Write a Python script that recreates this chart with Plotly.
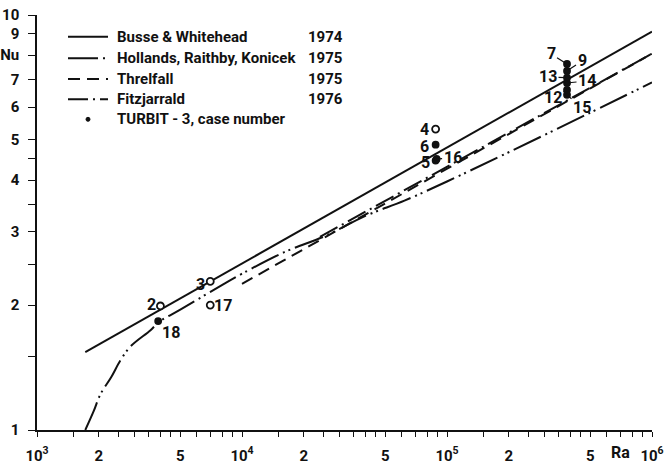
import math
import plotly.graph_objects as go

# ---------------- data ----------------
ra_busse = [1720, 1.0e6]
nu_busse = [1.54, 9.12]

ra_hollands = [1720, 1890, 2040, 2300, 2550, 2860, 3580, 3930, 5000, 8170,
               1.0e4, 1.6e4, 2.57e4, 4.0e4, 6.2e4, 1.0e5, 2.0e5, 4.87e5, 1.0e6]
nu_hollands = [1.00, 1.11, 1.22, 1.34, 1.47, 1.59, 1.74, 1.82, 1.95, 2.25,
               2.38, 2.68, 2.94, 3.28, 3.57, 3.97, 4.67, 5.78, 6.88]

ra_threlfall = [1.0e4, 1.0e6]
nu_threlfall = [2.25, 8.07]

ra_fitz = [2.4e4, 1.0e6]
nu_fitz = [2.92, 8.07]

case_ids = ["2", "3", "4", "5", "6", "7", "9", "12", "13", "14", "15", "16", "17", "18"]
ra_cases = [4000, 7000, 8.8e4, 8.8e4, 8.8e4, 3.85e5, 3.85e5, 3.85e5, 3.85e5, 3.85e5, 3.85e5, 8.9e4, 7000, 3900]
nu_cases = [1.99, 2.28, 5.31, 4.46, 4.87, 7.62, 7.33, 6.60, 7.06, 6.86, 6.42, 4.50, 2.00, 1.83]
open_cases = ["2", "3", "4", "17"]

legend_names = ["Busse & Whitehead", "Hollands, Raithby, Konicek", "Threlfall", "Fitzjarrald",
                "TURBIT - 3, case number"]
legend_years = ["1974", "1975", "1975", "1976", ""]

x_major_vals = [1e3, 2e3, 5e3, 1e4, 2e4, 5e4, 1e5, 2e5, 5e5, 1e6]
x_major_text = ["10<sup>3</sup>", "2", "5", "10<sup>4</sup>", "2", "5",
                "10<sup>5</sup>", "2", "5", "10<sup>6</sup>"]
x_minor_mult = [1.5, 2.5, 3, 3.5, 4, 4.5, 6, 7, 8, 9]
x_decades = [1e3, 1e4, 1e5]
y_tickvals = [1, 2, 3, 4, 5, 6, 7, 8, 9, 10]
y_ticktext = ["1", "2", "3", "4", "5", "6", "7", "Nu", "9", "10"]
y_minor_vals = [1.5, 2.5, 3.5, 4.5]

# ---------------- styling ----------------
FONT = "Roboto, Liberation Sans, sans-serif"
BLACK = "#111111"
DASH_H = "30px,5px,2px,4px,2px,5px"
DASH_T = "12px,7px"
DASH_F = "20px,5px,2px,5px"

x_minor_vals = [d * m for d in x_decades for m in x_minor_mult]

fig = go.Figure()
fig.add_trace(go.Scatter(x=ra_busse, y=nu_busse, mode="lines",
                         line=dict(color=BLACK, width=2), showlegend=False))
fig.add_trace(go.Scatter(x=ra_hollands, y=nu_hollands, mode="lines",
                         line=dict(color=BLACK, width=2, dash=DASH_H, shape="spline"), showlegend=False))
fig.add_trace(go.Scatter(x=ra_threlfall, y=nu_threlfall, mode="lines",
                         line=dict(color=BLACK, width=2, dash=DASH_T), showlegend=False))
fig.add_trace(go.Scatter(x=ra_fitz, y=nu_fitz, mode="lines",
                         line=dict(color=BLACK, width=2, dash=DASH_F), showlegend=False))

fill = ["white" if c in open_cases else BLACK for c in case_ids]
size = [7 if c in open_cases else 6 for c in case_ids]
fig.add_trace(go.Scatter(x=ra_cases, y=nu_cases, mode="markers",
                         marker=dict(symbol="circle", size=size, color=fill, opacity=1,
                                     line=dict(color=BLACK, width=1.8)),
                         showlegend=False))

plain = {"2": (-9, 1), "18": (13, -11), "3": (-10, -3), "17": (13, 0),
         "4": (-11, 0), "6": (-11, -2), "5": (-10, -2)}
leader = {"16": (16, -1), "7": (-16, -10), "9": (15, -10), "13": (-19, -1),
          "14": (20, -2), "12": (-14, 8), "15": (15, 13)}
LBL = dict(family=FONT, size=16, color=BLACK, weight="bold")
for cid, ra, nu in zip(case_ids, ra_cases, nu_cases):
    if cid in plain:
        dx, dy = plain[cid]
        fig.add_annotation(x=math.log10(ra), y=math.log10(nu), text=cid, showarrow=False,
                           xshift=dx, yshift=dy, font=LBL)
    else:
        ax, ay = leader[cid]
        fig.add_annotation(x=math.log10(ra), y=math.log10(nu), text=cid, showarrow=True,
                           arrowhead=0, arrowwidth=1.2, arrowcolor=BLACK, ax=ax, ay=ay,
                           standoff=2, font=LBL)

# ---------------- legend drawn in the plot area ----------------
X0, W = 37, 615
Y_BOT, H = 430, 415
def px(x):
    return (x - X0) / W
def py(y):
    return (Y_BOT - y) / H

rows = [36.7, 58.3, 79.0, 99.3, 119.3]
dashes = ["solid", DASH_H, DASH_T, DASH_F]
for r, d in zip(rows[:4], dashes):
    fig.add_shape(type="line", xref="paper", yref="paper", x0=px(68), x1=px(108),
                  y0=py(r), y1=py(r), line=dict(color=BLACK, width=2, dash=d))
fig.add_shape(type="circle", xref="paper", yref="paper",
              x0=px(86), x1=px(90), y0=py(rows[4] + 2), y1=py(rows[4] - 2),
              fillcolor=BLACK, line=dict(color=BLACK, width=1))
LEG = dict(family=FONT, size=15, color=BLACK, weight="bold")
for r, name, yr in zip(rows, legend_names, legend_years):
    fig.add_annotation(xref="paper", yref="paper", x=px(115), y=py(r), text=name,
                       showarrow=False, xanchor="left", yanchor="middle", font=LEG)
    if yr:
        fig.add_annotation(xref="paper", yref="paper", x=px(306), y=py(r), text=yr,
                           showarrow=False, xanchor="left", yanchor="middle", font=LEG)

fig.add_annotation(xref="x", yref="paper", x=5.845, y=0, yanchor="top", yshift=-11,
                   text="Ra", showarrow=False, font=LBL)

TICKF = dict(family=FONT, size=15, color=BLACK, weight="bold")
fig.update_layout(
    width=666, height=465,
    margin=dict(l=37, r=14, t=15, b=35),
    paper_bgcolor="white", plot_bgcolor="white",
    font=dict(family=FONT, size=16, color=BLACK, weight="bold"),
    xaxis=dict(type="log", range=[3, 6], tickvals=x_major_vals, ticktext=x_major_text,
               ticks="outside", ticklen=5, tickwidth=1.2, tickcolor=BLACK,
               minor=dict(tickvals=x_minor_vals, ticks="outside", ticklen=5,
                          tickwidth=1.2, tickcolor=BLACK, showgrid=False),
               showline=True, linecolor=BLACK, linewidth=1.5, showgrid=False,
               zeroline=False, ticklabelstandoff=6, automargin=False, tickfont=TICKF),
    yaxis=dict(type="log", range=[0, 1], tickvals=y_tickvals, ticktext=y_ticktext,
               ticks="outside", ticklen=7, tickwidth=1.2, tickcolor=BLACK,
               minor=dict(tickvals=y_minor_vals, ticks="outside", ticklen=7,
                          tickwidth=1.2, tickcolor=BLACK, showgrid=False),
               showline=True, linecolor=BLACK, linewidth=1.5, showgrid=False,
               zeroline=False, ticklabelstandoff=6, automargin=False, tickfont=TICKF),
)

fig.write_html("out.html", config={"displayModeBar": False},
               post_script="document.body.style.margin='0';document.body.style.padding='0';")
